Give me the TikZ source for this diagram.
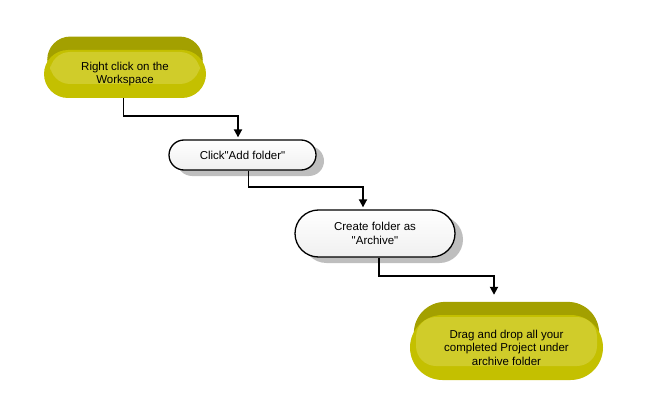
\documentclass[tikz,border=0pt]{standalone}
\usepackage{fontspec}
\setmainfont{Liberation Sans}
\usetikzlibrary{shapes.misc,shadows,arrows.meta}
\definecolor{olivebody}{RGB}{196,192,0}
\definecolor{olivetop}{RGB}{163,160,0}
\definecolor{olivehi}{RGB}{208,204,42}
\definecolor{shadowgray}{RGB}{190,190,190}
\begin{document}
\begin{tikzpicture}[x=1pt,y=-1pt,
    font=\fontsize{11.5}{13.5}\selectfont,
    stepyellow/.style={rounded rectangle,fill=olivebody,align=center,inner sep=2pt,
      general shadow={fill=olivetop,shadow yshift=15pt,shadow scale=0.96},
      path picture={\fill[olivehi,rounded corners=20pt]
        ([xshift=6pt,yshift=-2pt]path picture bounding box.north west) rectangle
        ([xshift=-6pt,yshift=14pt]path picture bounding box.south east);}},
    stepwhite/.style={rounded rectangle,draw,line width=1.3pt,align=center,inner sep=2pt,
      top color=white,bottom color=gray!12,
      drop shadow={shadow xshift=8pt,shadow yshift=-6pt,fill=shadowgray,opacity=1}},
    flow/.style={line width=1.8pt,shorten >=2pt,-{Triangle[width=8pt,length=8pt]}}]
  \useasboundingbox (0,0) rectangle (650,417);
  % steps, top left to bottom right
  \node[stepyellow,minimum width=166pt,minimum height=48pt] (n1) at (125,74)
    {Right click on the\\Workspace};
  \node[stepwhite,minimum width=151pt,minimum height=30pt] (n2) at (242.5,155)
    {Click\textquotedbl Add folder\textquotedbl};
  \node[stepwhite,minimum width=164pt,minimum height=47pt] (n3) at (375,233.5)
    {Create folder as\\\textquotedbl Archive\textquotedbl};
  \node[stepyellow,minimum width=197pt,minimum height=65pt] (n4) at (506.5,347.5)
    {Drag and drop all your\\completed Project under\\archive folder};
  % elbow connectors
  \draw[flow] ([xshift=-1.5pt]n1.south) -- ++(0,18) -| ([xshift=-4.5pt]n2.north);
  \draw[flow] ([xshift=6pt]n2.south) -- ++(0,16) -| ([xshift=-12pt]n3.north);
  \draw[flow,shorten >=20pt] ([xshift=4pt]n3.south) -- ++(0,18) -| ([xshift=-12.5pt]n4.north);
\end{tikzpicture}
\end{document}
